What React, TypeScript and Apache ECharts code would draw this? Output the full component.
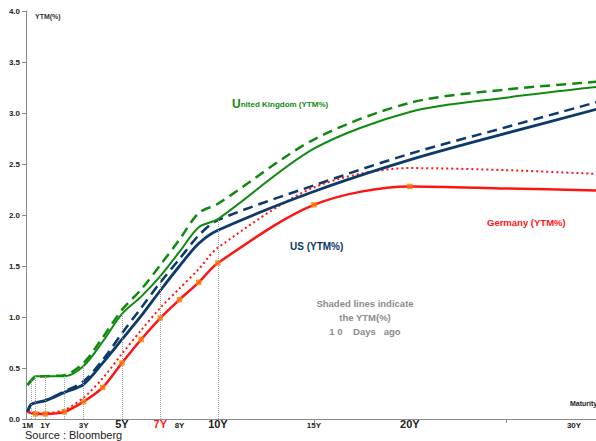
import React, { useEffect, useRef } from "react";
import * as echarts from "echarts";

// Maturities in years
const maturities = [0.083, 0.25, 0.5, 1, 2, 3, 4, 5, 6, 7, 8, 9, 10, 15, 20, 25, 30];

// Current yields (YTM %)
const ukNow = [0.34, 0.38, 0.42, 0.42, 0.42, 0.52, 0.76, 1.03, 1.2, 1.4, 1.64, 1.88, 1.96, 2.65, 3.01, 3.15, 3.26];
const usNow = [0.07, 0.14, 0.16, 0.18, 0.26, 0.34, 0.55, 0.78, 1.01, 1.26, 1.5, 1.72, 1.85, 2.23, 2.54, 2.8, 3.05];
const deNow = [0.07, 0.06, 0.05, 0.05, 0.07, 0.17, 0.31, 0.55, 0.78, 0.99, 1.17, 1.34, 1.53, 2.1, 2.28, 2.26, 2.24];

// Yields 10 days ago
const ukPrev = [0.33, 0.37, 0.41, 0.42, 0.43, 0.55, 0.8, 1.07, 1.27, 1.51, 1.76, 2.02, 2.11, 2.74, 3.1, 3.23, 3.31];
const usPrev = [0.07, 0.14, 0.16, 0.18, 0.27, 0.37, 0.58, 0.84, 1.09, 1.34, 1.57, 1.8, 1.95, 2.29, 2.6, 2.86, 3.12];
const dePrev = [0.07, 0.07, 0.06, 0.06, 0.09, 0.21, 0.4, 0.64, 0.87, 1.09, 1.28, 1.47, 1.68, 2.27, 2.46, 2.44, 2.4];

const deMarkerMaturities = [0.5, 1, 2, 3, 4, 5, 6, 7, 8, 9, 10, 15, 20];
const dropMaturities = [0.25, 0.5, 1, 2, 3, 5, 7, 10];

const xTickValues = [0.083, 1, 3, 5, 7, 8, 10, 15, 20];
const xTickLabels = ["1M", "1Y", "3Y", "5Y", "7Y", "8Y", "10Y", "15Y", "20Y"];
const xTickStyles = ["s", "s", "s", "b", "r", "s", "b", "s", "b"];
const xTickMarks = [15, 25];

const FONT = "Liberation Sans, Arial, sans-serif";
const GREEN = "#0f8a0f";
const NAVY = "#0b3a6b";
const RED = "#ff1414";
const ORANGE = "#ff7a00";

const pairs = (vals: number[]) => maturities.map((m, i) => [m, vals[i]]);

export default function App() {
  const ref = useRef<HTMLDivElement>(null);
  useEffect(() => {
    if (!ref.current) return;
    const chart = echarts.init(ref.current, undefined, { renderer: "svg" });

    const deMarkers = deMarkerMaturities.map((m) => [m, deNow[maturities.indexOf(m)]]);
    const drops = dropMaturities.map((m) => [
      { coord: [m, 0] },
      { coord: [m, ukNow[maturities.indexOf(m)]] },
    ]);

    const lineBase = {
      type: "line",
      smooth: 0.3,
      symbol: "none",
      clip: true,
    };

    chart.setOption({
      animation: false,
      backgroundColor: "#ffffff",
      grid: { left: 26, right: 0, top: 11, bottom: 22, outerBoundsMode: "none", containLabel: false },
      xAxis: {
        type: "value",
        min: 0,
        max: 29.7,
        axisLine: { show: true, lineStyle: { color: "#8a8a8a", width: 1 } },
        axisTick: { show: true, customValues: xTickMarks, length: 4, inside: false, lineStyle: { color: "#8a8a8a" } },
        splitLine: { show: false },
        axisLabel: {
          customValues: xTickValues,
          margin: -1,
          formatter: (v: number) => {
            const i = xTickValues.findIndex((t) => Math.abs(t - v) < 1e-6);
            if (i < 0) return "";
            return "{" + xTickStyles[i] + "|" + xTickLabels[i] + "}";
          },
          rich: {
            s: { fontFamily: FONT, fontWeight: "bold", fontSize: 8, color: "#222", padding: [3, 0, 0, 0] },
            b: { fontFamily: FONT, fontWeight: "bold", fontSize: 11, color: "#222" },
            r: { fontFamily: FONT, fontWeight: "bold", fontSize: 11, color: "#ff2020" },
          },
        },
      },
      yAxis: {
        type: "value",
        min: 0,
        max: 4,
        interval: 0.5,
        axisLine: { show: true, lineStyle: { color: "#8a8a8a", width: 1 } },
        axisTick: { show: true, length: 4, lineStyle: { color: "#8a8a8a" } },
        splitLine: { show: false },
        axisLabel: {
          margin: 6,
          fontFamily: FONT,
          fontWeight: "bold",
          fontSize: 8,
          color: "#222",
          formatter: (v: number) => v.toFixed(1),
        },
      },
      series: [
        {
          type: "line",
          data: [],
          z: 1,
          markLine: {
            silent: true,
            symbol: ["none", "none"],
            label: { show: false },
            lineStyle: { color: "#a0a0a0", type: "dotted", width: 1 },
            data: drops,
          },
        },
        { ...lineBase, name: "UK prev", data: pairs(ukPrev), z: 2, lineStyle: { color: GREEN, width: 2.5, type: [10, 6] } },
        { ...lineBase, name: "US prev", data: pairs(usPrev), z: 2, lineStyle: { color: NAVY, width: 2.5, type: [10, 6] } },
        { ...lineBase, name: "DE prev", data: pairs(dePrev), z: 2, lineStyle: { color: RED, width: 2, type: [2, 3] } },
        { ...lineBase, name: "UK", data: pairs(ukNow), z: 3, lineStyle: { color: GREEN, width: 2 } },
        { ...lineBase, name: "US", data: pairs(usNow), z: 3, lineStyle: { color: NAVY, width: 2.8 } },
        { ...lineBase, name: "Germany", data: pairs(deNow), z: 3, lineStyle: { color: RED, width: 2.5 } },
        {
          type: "scatter",
          name: "DE points",
          data: deMarkers,
          symbol: "rect",
          symbolSize: 5.5,
          z: 4,
          itemStyle: { color: ORANGE },
        },
      ],
      graphic: [
        { type: "text", left: 35, top: 13, style: { text: "YTM(%)", font: "bold 7px " + FONT, fill: "#333" } },
        {
          type: "text",
          left: 232,
          top: 98,
          style: {
            text: "{u|U}{r|nited Kingdom (YTM%)}",
            rich: {
              u: { font: "bold 12px " + FONT, fill: GREEN },
              r: { font: "bold 8px " + FONT, fill: GREEN },
            },
          },
        },
        { type: "text", left: 290, top: 241, style: { text: "US (YTM%)", font: "bold 10px " + FONT, fill: NAVY } },
        { type: "text", left: 487, top: 217, style: { text: "Germany (YTM%)", font: "bold 9.5px " + FONT, fill: RED } },
        {
          type: "text",
          x: 365,
          y: 296,
          style: {
            text: "Shaded lines indicate\nthe YTM(%)\n1 0    Days   ago",
            font: "bold 9.5px " + FONT,
            fill: "#8c8c8c",
            align: "center",
            lineHeight: 14,
          },
        },
        { type: "text", left: 570, top: 400, style: { text: "Maturity", font: "bold 7px " + FONT, fill: "#222" } },
        { type: "text", x: 574, y: 421, style: { text: "30Y", font: "bold 8px " + FONT, fill: "#222", align: "center" } },
        { type: "text", left: 25, top: 429, style: { text: "Source : Bloomberg", font: "11px " + FONT, fill: "#222" } },
      ],
    });
    return () => chart.dispose();
  }, []);
  return (
    <div
      ref={ref}
      style={{ position: "absolute", left: 0, top: 0, width: 596, height: 441, background: "#fff" }}
    />
  );
}
